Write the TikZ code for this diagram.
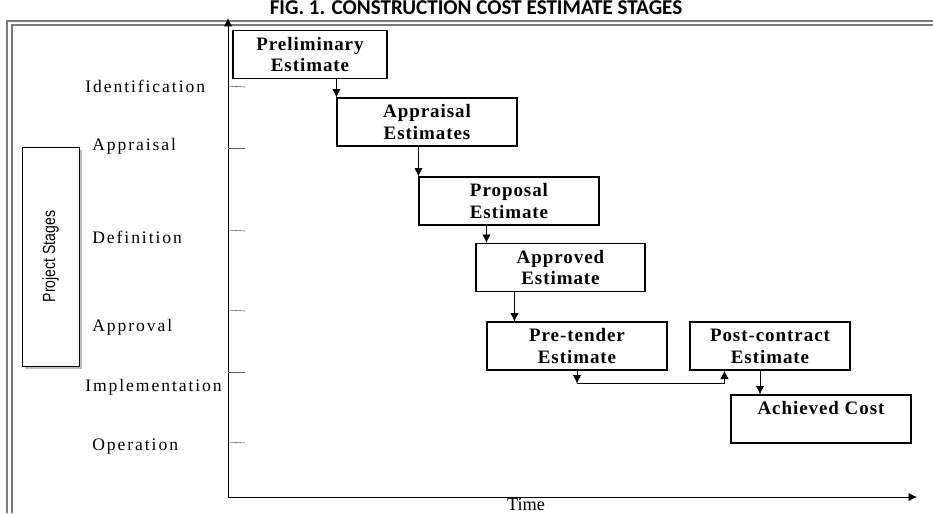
\documentclass[tikz,border=0pt]{standalone}
\usepackage{fontspec}
\usepackage{graphicx}
\setmainfont{Liberation Serif}
\newfontfamily\stagefont[LetterSpace=11]{Liberation Serif}
\newfontfamily\estfont[LetterSpace=5]{Liberation Serif}
\newfontfamily\titlefont{Carlito}
\newfontfamily\sidefont{Liberation Sans}
\usetikzlibrary{arrows.meta,calc,positioning,shadows}
\definecolor{frameColor}{RGB}{120,120,120}
\definecolor{tickColor}{RGB}{90,90,90}
\tikzset{estimate/.style={draw, thick, align=center, minimum width=180*0.025cm, minimum height=48*0.025cm, inner sep=2pt, font=\estfont\fontsize{13.5}{15.5}\selectfont\bfseries}}
\tikzset{stage/.style={anchor=west, inner sep=0pt, font=\stagefont\fontsize{12.5}{14}\selectfont}}
\tikzset{tick/.style={tickColor, thin}}
\tikzstyle{arrow} = [-{Latex[length=6pt,width=6pt]}, semithick]

\begin{document}
\begin{tikzpicture}[x=0.025cm, y=-0.025cm]
	\useasboundingbox (0,0) rectangle (933,513);

	% Frame and title
	\draw[frameColor, line width=1.3pt] (7,513) -- (7,21) -- (933,21);
	\draw[frameColor, line width=1.3pt] (12,513) -- (12,25) -- (933,25);
	\node (title) [anchor=base, font=\titlefont\fontsize{15}{17}\selectfont\bfseries] at (476,14) {FIG. 1. CONSTRUCTION COST ESTIMATE STAGES};

	% Axes
	\coordinate (origin) at (228,497);
	\coordinate (ytop) at (228,18);
	\coordinate (xend) at (917,497);
	\draw[arrow] (origin) -- (ytop);
	\draw[arrow] (origin) -- (xend);
	\node (time) [font=\fontsize{13}{15}\selectfont] at (526,505) {Time};

	% Side box
	\node (sidebox) [draw, fill=white, minimum width=57*0.025cm, minimum height=219*0.025cm, drop shadow={shadow xshift=2pt, shadow yshift=-2pt, fill=gray}] at (50.5,256.5) {};
	\node (sidetext) [rotate=90, font=\sidefont\fontsize{12.5}{14}\selectfont] at (sidebox.center) {\scalebox{0.8}[1]{Project Stages}};

	% Stages
	\coordinate (t1) at (228,86);
	\coordinate (t2) at (228,148);
	\coordinate (t3) at (228,230);
	\coordinate (t4) at (228,310);
	\coordinate (t5) at (228,372);
	\coordinate (t6) at (228,442);
	\draw[tick] (t1) -- ++(17,1);
	\draw[tick] (t2) -- ++(17,0);
	\draw[tick] (t3) -- ++(17,1);
	\draw[tick] (t4) -- ++(17,1);
	\draw[tick] (t5) -- ++(17,0);
	\draw[tick] (t6) -- ++(17,1);
	\node (identification) [stage] at (85,86) {Identification};
	\node (appraisal) [stage] at (92,146) {Appraisal};
	\node (definition) [stage] at (92,237) {Definition};
	\node (approval) [stage] at (92,327) {Approval};
	\node (implementation) [stage] at (85,387) {Implementation};
	\node (operation) [stage] at (92,447) {Operation};

	% Estimates
	\node (preliminary) [estimate, minimum width=154*0.025cm] at (310,54.5) {Preliminary\\ Estimate};
	\node (appraisalEst) [estimate] at (427,122) {Appraisal\\ Estimates};
	\node (proposal) [estimate] at (509,201) {Proposal\\ Estimate};
	\node (approved) [estimate, minimum width=169*0.025cm] at (560.5,267.5) {Approved\\ Estimate};
	\node (pretender) [estimate] at (577,346) {Pre-tender\\ Estimate};
	\node (postcontract) [estimate, minimum width=160*0.025cm] at (770,346) {Post-contract\\ Estimate};
	\node (achieved) [estimate] at (821,419) {Achieved Cost\\ \mbox{}};

	% Connectors
	\coordinate (inApproved) at ($(approved.north west)+(11,0)$);
	\coordinate (inPretender) at ($(pretender.north west)+(28,0)$);
	\coordinate (turn) at ($(pretender.south)+(0,13)$);
	\coordinate (rise) at ($(postcontract.south west)+(35,0)$);
	\coordinate (drop) at ($(postcontract.south)+(-10,0)$);
	\draw[arrow] (appraisalEst.north west |- preliminary.south) -- (appraisalEst.north west);
	\draw[arrow] (proposal.north west |- appraisalEst.south) -- (proposal.north west);
	\draw[arrow] (inApproved |- proposal.south) -- (inApproved);
	\draw[arrow] (inPretender |- approved.south) -- (inPretender);
	\draw[arrow] (pretender.south) -- (turn);
	\draw[arrow] (turn) -- (turn -| rise) -- (rise);
	\draw[arrow] (drop) -- (drop |- achieved.north);

\end{tikzpicture}
\end{document}
